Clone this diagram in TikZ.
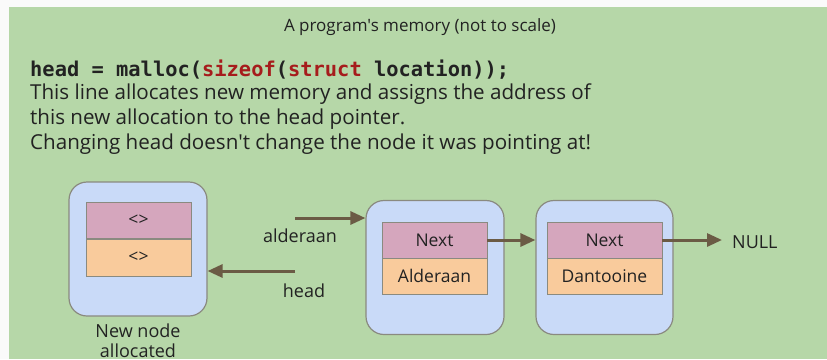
\documentclass[tikz,border=0pt]{standalone}
\usepackage{fontspec}
\setmainfont{Open Sans}[Ligatures=TeXOff]
\setmonofont{DejaVu Sans Mono}
\usetikzlibrary{arrows.meta}
\definecolor{bggreen}{HTML}{B6D7A8}
\definecolor{pagewhite}{HTML}{FAFAFA}
\definecolor{boxblue}{HTML}{C9DAF8}
\definecolor{boxline}{HTML}{8A8A80}
\definecolor{fieldpink}{HTML}{D5A6BD}
\definecolor{fieldorange}{HTML}{F9CB9C}
\definecolor{ptrbrown}{HTML}{6B5B45}
\definecolor{codered}{HTML}{A61C1C}
\definecolor{txt}{HTML}{222222}
\tikzset{
  memnode/.style={draw=boxline, line width=1.2pt, fill=boxblue, rounded corners=18pt, minimum width=138pt, minimum height=134pt, inner sep=0pt},
  fieldbox/.style={draw=boxline, line width=0.9pt, minimum height=36pt, inner sep=0pt, font=\fontsize{17.5}{20}\selectfont, text=txt},
  pinkfield/.style={fieldbox, fill=fieldpink},
  orangefield/.style={fieldbox, fill=fieldorange},
  ptr/.style={draw=ptrbrown, line width=3pt, -{Triangle[length=15pt,width=13pt]}},
  lbl/.style={font=\fontsize{18}{20}\selectfont, text=txt, inner sep=0pt},
  bodytext/.style={font=\fontsize{20.6}{24}\selectfont, text=txt, inner sep=0pt, anchor=base west}
}
\begin{document}
\begin{tikzpicture}[x=1pt,y=-1pt]
\useasboundingbox (0,0) rectangle (827,359);
\fill[pagewhite] (0,0) rectangle (827,359);
\fill[bggreen] (9,7) rectangle (827,359);
% title
\node[font=\fontsize{17}{20}\selectfont, text=txt, inner sep=0pt, anchor=base] (title) at (420,31) {A program's memory (not to scale)};
% code and explanation
\node[bodytext, font=\fontsize{20.4}{24}\selectfont\ttfamily\bfseries] (code) at (30,76) {head = malloc(\textcolor{codered}{sizeof}(\textcolor{codered}{struct} location));};
\node[bodytext] (l1) at (30,99.5) {This line allocates new memory and assigns the address of};
\node[bodytext] (l2) at (30,124) {this new allocation to the head pointer.};
\node[bodytext] (l3) at (30,149) {Changing head doesn't change the node it was pointing at!};
% memory nodes
\node[memnode] (n1) at (138,249) {};
\node[memnode] (n2) at (435,267.5) {};
\node[memnode, minimum width=137pt] (n3) at (604.5,267.5) {};
\node[pinkfield, minimum width=105pt] (n1a) at (138.5,220.5) {<>};
\node[orangefield, minimum width=105pt, minimum height=37pt] (n1b) at (138.5,257.5) {<>};
\node[pinkfield, minimum width=105pt] (n2a) at (434.5,240) {Next};
\node[orangefield, minimum width=105pt] (n2b) at (434.5,276) {Alderaan};
\node[pinkfield, minimum width=115pt] (n3a) at (604.5,240) {Next};
\node[orangefield, minimum width=115pt] (n3b) at (604.5,276) {Dantooine};
% labels
\node[lbl, align=center] (newlbl) at (138,341) {New node\\allocated};
\node[lbl] (aldlbl) at (300,236) {alderaan};
\node[lbl] (headlbl) at (304,291) {head};
\node[lbl, anchor=west] (null) at (732,242) {NULL};
% pointers
\coordinate (aldstart) at (295,218);
\coordinate (headstart) at (295,271);
\coordinate (nullend) at (722,240);
\draw[ptr] (aldstart) -- (aldstart -| n2.west);
\draw[ptr] (headstart) -- (headstart -| n1.east);
\draw[ptr] (n2a.east) -- (n2a.east -| n3.west);
\draw[ptr] (n3a.east) -- (nullend);
\end{tikzpicture}
\end{document}
